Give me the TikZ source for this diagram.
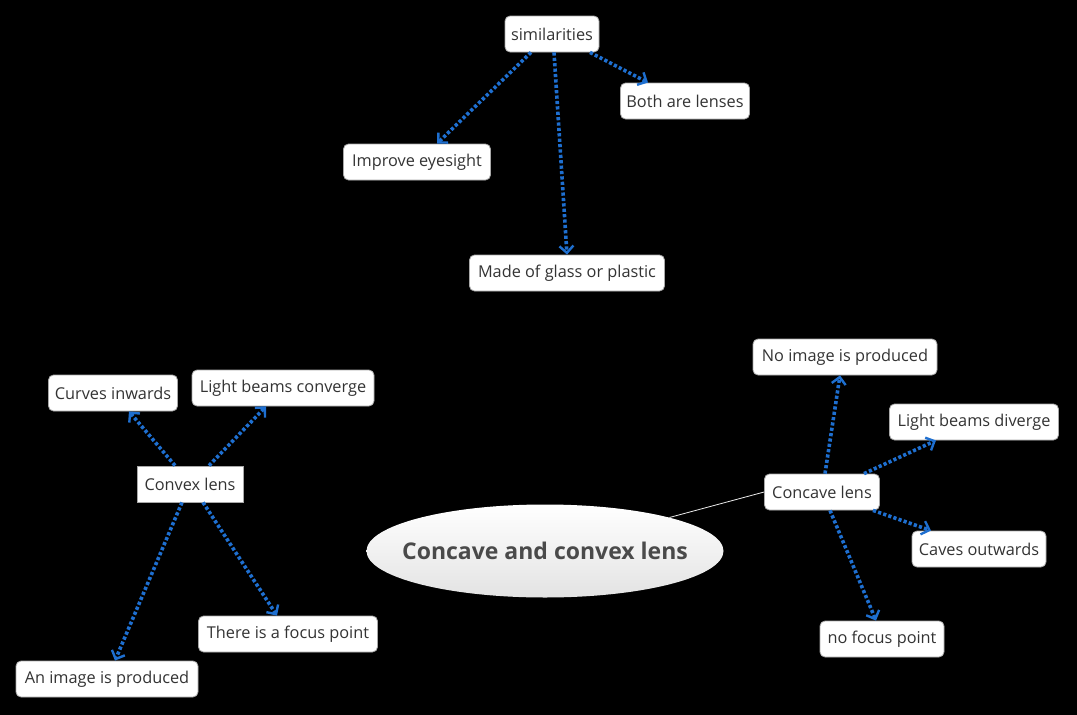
\documentclass[tikz,border=0pt]{standalone}
\usepackage{fontspec}
\setmainfont{Open Sans}
\usetikzlibrary{arrows.meta,shapes.geometric,calc}
\definecolor{lnk}{HTML}{1E6FD0}
\definecolor{txt}{HTML}{333333}
\definecolor{brd}{HTML}{A8A8A8}
\definecolor{maintxt}{HTML}{4A4A4A}
\begin{document}
\begin{tikzpicture}[x=1pt,y=-1pt,
  box/.style={draw=brd,fill=white,rounded corners=5pt,text=txt,
    font=\fontsize{16.3}{18}\selectfont,minimum height=36pt,inner xsep=4pt,inner ysep=0pt,line width=0.8pt},
  sqbox/.style={box,rounded corners=0pt},
  link/.style={draw=lnk,line width=3.6pt,dash pattern=on 3.2pt off 2.2pt,
    -{Straight Barb[length=7pt,width=14pt,line width=2.4pt]}},
  tie/.style={draw=white!85!gray,line width=0.8pt}
]
\fill[black] (0,0) rectangle (1077,715);
\useasboundingbox (0,0) rectangle (1077,715);

% central topic
\node[ellipse,minimum width=357pt,minimum height=93pt,inner sep=0pt,
  top color=white,bottom color=gray!22,draw=none] (main) at (545,551) {};
\node[text=maintxt,font=\bfseries\fontsize{23}{27}\selectfont,inner sep=0pt] (maintitle) at (main.center) {Concave and convex lens};

% similarities branch
\node[box,minimum width=94pt] (sim) at (552,34) {similarities};
\node[box,minimum width=129pt] (both) at (685,101) {Both are lenses};
\node[box,minimum width=147pt] (imp) at (417,162) {Improve eyesight};
\node[box,minimum width=195pt] (made) at (567,273) {Made of glass or plastic};

% convex branch
\node[sqbox,minimum width=106pt] (cvx) at (190,484) {Convex lens};
\node[box,minimum width=129pt] (curv) at (113,393) {Curves inwards};
\node[box,minimum width=182pt] (conv) at (283,388) {Light beams converge};
\node[box,minimum width=179pt] (focus) at (288,634) {There is a focus point};
\node[box,minimum width=182pt] (img) at (107,679) {An image is produced};

% concave branch
\node[box,minimum width=115pt] (ccv) at (822,492) {Concave lens};
\node[box,minimum width=184pt] (noimg) at (845,357) {No image is produced};
\node[box,minimum width=169pt] (div) at (974,422) {Light beams diverge};
\node[box,minimum width=134pt] (caves) at (979,549) {Caves outwards};
\node[box,minimum width=124pt] (nofoc) at (882,639) {no focus point};

% connectors
\draw[tie] (main) -- (ccv.west);

\draw[link] ([xshift=-21pt]sim.south) -- ([xshift=20pt]imp.north);
\draw[link] ([xshift=2pt]sim.south) -- ([xshift=0pt]made.north);
\draw[link] ([xshift=38pt]sim.south) -- ([xshift=-37pt]both.north);

\draw[link] ([xshift=-15pt]cvx.north) -- ([xshift=16pt]curv.south);
\draw[link] ([xshift=19pt]cvx.north) -- ([xshift=-17pt]conv.south);
\draw[link] ([xshift=-8pt]cvx.south) -- ([xshift=8pt]img.north);
\draw[link] ([xshift=13pt]cvx.south) -- ([xshift=-11pt]focus.north);

\draw[link] ([xshift=3pt]ccv.north) -- ([xshift=-5pt]noimg.south);
\draw[link] ([xshift=42pt]ccv.north) -- ([xshift=-38pt]div.south);
\draw[link] ([xshift=51pt]ccv.south) -- ([xshift=-48pt]caves.north);
\draw[link] ([xshift=8pt]ccv.south) -- ([xshift=-6pt]nofoc.north);
\end{tikzpicture}
\end{document}
